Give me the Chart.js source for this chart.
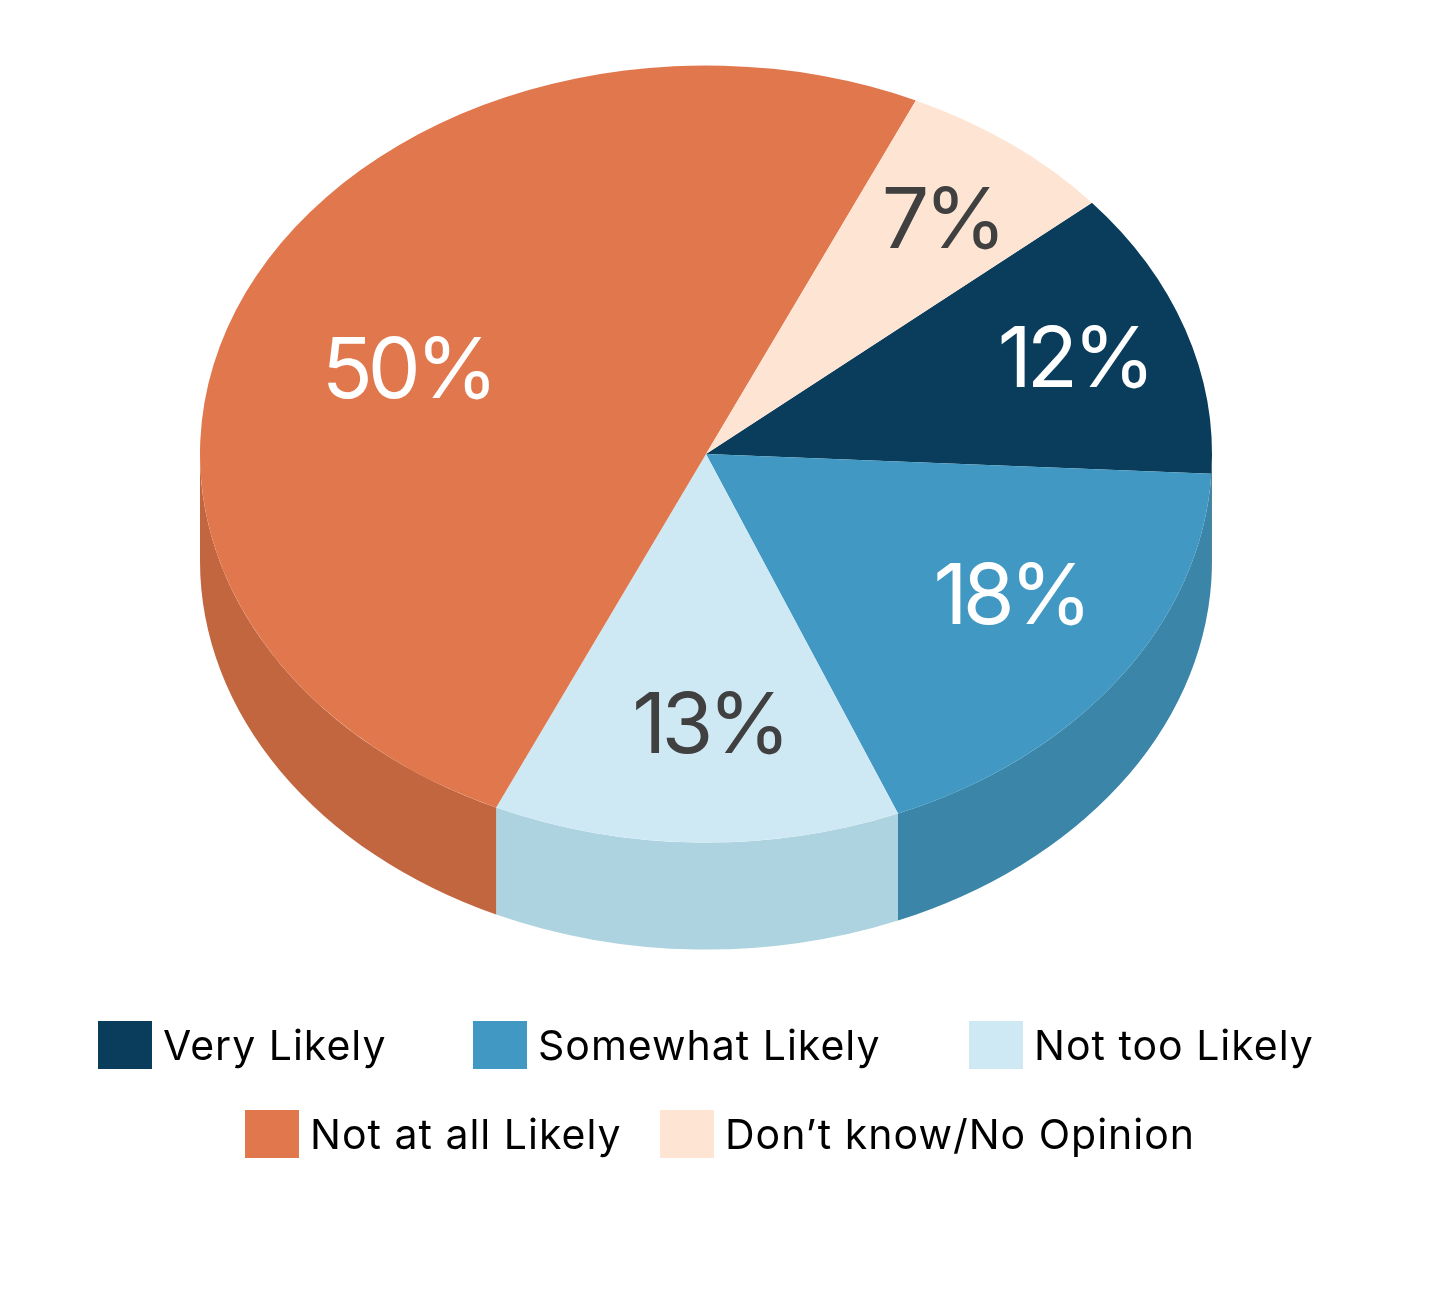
<!DOCTYPE html>
<html><head><meta charset="utf-8">
<style>html,body{margin:0;padding:0;background:#fff}#w{width:1440px;height:1290px;position:relative}</style>
<script src="https://cdn.jsdelivr.net/npm/chart.js@4"></script></head>
<body><div id="w"><canvas id="c" width="1440" height="1290"></canvas></div>
<script>
const categories = ["Very Likely","Somewhat Likely","Not too Likely","Not at all Likely","Don\u2019t know/No Opinion"];
const values = [12,18,13,50,7];
const topColors = ["#0A3D5C","#4199C3","#CFE9F4","#E1774D","#FEE5D3"];
const wallColors = ["#0A3D5C","#3B85A9","#ADD3E0","#C26640","#FEE5D3"];
const labelColors = ["#FFFFFF","#FFFFFF","#404040","#FFFFFF","#404040"];
const labelNudge = [[23,-3],[7,-17],[10,-6],[33,35],[16,-8]];
const legendRows = [[[98,0],[473,1],[969,2]],[[245,3],[660,4]]];
const CX=706, CY=454, K=0.768, DEPTH=107;
const FONT='Inter, "Open Sans", sans-serif';

const pseudo3d = {
  id:'pseudo3d',
  beforeDatasetsDraw(chart){
    const ctx=chart.ctx, arcs=chart.getDatasetMeta(0).data;
    const a0=arcs[0], ox=a0.x, oy=a0.y;
    ctx.save();
    arcs.forEach((arc,i)=>{
      const p=arc.getProps(['startAngle','endAngle','outerRadius']);
      const r=p.outerRadius, ry=r*K;
      let ranges=[];
      for(const shift of [0,-2*Math.PI,2*Math.PI]){
        const s=Math.max(p.startAngle+shift,0), e=Math.min(p.endAngle+shift,Math.PI);
        if(e>s) ranges.push([s,e]);
      }
      ranges.forEach(([s,e])=>{
        ctx.beginPath();
        ctx.ellipse(CX,CY,r,ry,0,s,e,false);
        ctx.ellipse(CX,CY+DEPTH,r,ry,0,e,s,true);
        ctx.closePath();
        ctx.fillStyle=wallColors[i];
        ctx.fill();
      });
    });
    ctx.restore();
    ctx.save();
    ctx.translate(CX,CY);ctx.scale(1,K);ctx.translate(-ox,-oy);
  },
  afterDatasetsDraw(chart){
    chart.ctx.restore();
    const ctx=chart.ctx, arcs=chart.getDatasetMeta(0).data;
    ctx.save();
    ctx.textAlign='center';ctx.textBaseline='middle';
    ctx.font='400 84px '+FONT;
    ctx.letterSpacing='-5px';
    arcs.forEach((arc,i)=>{
      const p=arc.getProps(['startAngle','endAngle','outerRadius']);
      const m=(p.startAngle+p.endAngle)/2, r=p.outerRadius*0.72;
      ctx.fillStyle=labelColors[i];
      ctx.fillText(values[i]+'%',CX+Math.cos(m)*r+labelNudge[i][0],CY+Math.sin(m)*r*K+labelNudge[i][1]);
    });
    ctx.restore();
    ctx.save();
    ctx.font='400 41px '+FONT;ctx.letterSpacing='1px';ctx.textBaseline='middle';ctx.textAlign='left';
    legendRows.forEach((row,ri)=>{
      const y=1045+ri*89;
      row.forEach(([x,i])=>{
        ctx.fillStyle=topColors[i];ctx.fillRect(x,y-24,54,48);
        ctx.fillStyle='#000000';ctx.fillText(categories[i],x+65,y+3);
      });
    });
    ctx.restore();
  }
};

new Chart(document.getElementById('c'),{
  type:'pie',
  data:{labels:categories,datasets:[{data:values,backgroundColor:topColors,borderWidth:0}]},
  options:{
    responsive:false,animation:false,rotation:49.7,
    layout:{padding:{left:200,right:228,top:139,bottom:139}},
    plugins:{legend:{display:false},tooltip:{enabled:false}}
  },
  plugins:[pseudo3d]
});
</script></body></html>
